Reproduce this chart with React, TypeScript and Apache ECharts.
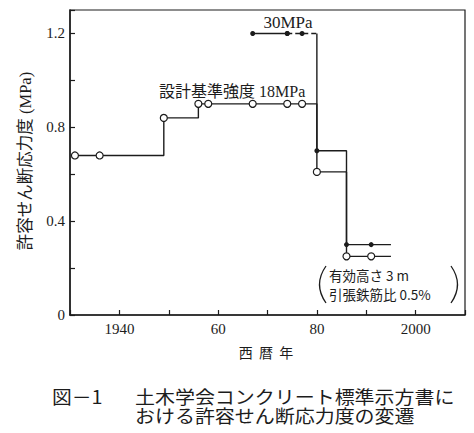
import React, { useEffect, useRef } from "react";
import * as echarts from "echarts";

// ---- data ----
const years18 = [1931, 1936, 1949, 1956, 1958, 1967, 1974, 1977, 1980, 1986, 1991];
const values18 = [0.68, 0.68, 0.84, 0.9, 0.9, 0.9, 0.9, 0.9, 0.61, 0.25, 0.25];
const years30 = [1967, 1974, 1977, 1980, 1986, 1991];
const values30 = [1.2, 1.2, 1.2, 0.7, 0.3, 0.3];
const tailYear = 1995;
const dashedFrom = 1974; // 30MPa line dashed from this year until the 1980 drop
const dropYear = 1980;

const xTickLabels: Record<number, string> = { 1940: "1940", 1960: "60", 1980: "80", 2000: "2000" };
const yTickLabels: Record<string, string> = { "0": "0", "0.4": "0.4", "0.8": "0.8", "1.2": "1.2" };

const INK = "#1c1c1c";
const SERIF = "'Liberation Serif', 'Noto Sans CJK JP', serif";
const GOTHIC = "'Noto Sans CJK JP', sans-serif";

export default function App() {
  const ref = useRef<HTMLDivElement>(null);
  useEffect(() => {
    if (!ref.current) return;
    const chart = echarts.init(ref.current, undefined, { renderer: "svg" });

    const openSym = {
      symbol: "circle",
      symbolSize: 7,
      itemStyle: { color: "#fff", borderColor: INK, borderWidth: 1.2 },
    };
    const dotSym = {
      symbol: "circle",
      symbolSize: 5,
      itemStyle: { color: INK, borderColor: INK, borderWidth: 0 },
    };
    const lineSolid = { color: INK, width: 1.4, type: "solid" as const };

    const data18: any[] = years18.map((y, i) => [y, values18[i]]);
    data18.push({ value: [tailYear, values18[values18.length - 1]], symbol: "none" });

    const idxDash = years30.indexOf(dashedFrom);
    const idxDrop = years30.indexOf(dropYear);
    const top30 = values30[0];
    const data30a: any[] = years30.slice(0, idxDash + 1).map((y, i) => [y, values30[i]]);
    const data30b: any[] = years30
      .slice(idxDash, idxDrop)
      .map((y, i) => [y, values30[idxDash + i]]);
    data30b.push({ value: [dropYear, top30], symbol: "none" });
    const data30c: any[] = [{ value: [dropYear, top30], symbol: "none" }];
    years30.slice(idxDrop).forEach((y, i) => data30c.push([y, values30[idxDrop + i]]));
    data30c.push({ value: [tailYear, values30[values30.length - 1]], symbol: "none" });

    const parenStyle = { stroke: INK, lineWidth: 1.3, fill: "none" };

    const option: any = {
      animation: false,
      grid: {
        left: 70,
        top: 10,
        width: 395,
        height: 305,
        show: true,
        borderColor: INK,
        borderWidth: 1.2,
        backgroundColor: "transparent",
      },
      xAxis: {
        type: "value",
        min: 1930,
        max: 2010,
        interval: 10,
        axisLine: { show: true, lineStyle: { color: INK, width: 1.5 } },
        axisTick: { show: true, inside: true, length: 5, lineStyle: { color: INK, width: 1.2 } },
        splitLine: { show: false },
        axisLabel: {
          color: INK,
          fontFamily: SERIF,
          fontSize: 15,
          margin: 6,
          formatter: (v: number) => xTickLabels[Math.round(v)] ?? "",
        },
      },
      yAxis: {
        type: "value",
        min: 0,
        max: 1.3,
        interval: 0.2,
        axisLine: { show: true, lineStyle: { color: INK, width: 1.5 } },
        axisTick: { show: true, inside: true, length: 5, lineStyle: { color: INK, width: 1.2 } },
        splitLine: { show: false },
        axisLabel: {
          color: INK,
          fontFamily: SERIF,
          fontSize: 15,
          margin: 5,
          formatter: (v: number) => yTickLabels[String(Math.round(v * 10) / 10)] ?? "",
        },
      },
      series: [
        {
          name: "18MPa",
          type: "line",
          step: "end",
          data: data18,
          lineStyle: lineSolid,
          ...openSym,
          z: 3,
        },
        {
          name: "30MPa-a",
          type: "line",
          data: data30a,
          lineStyle: lineSolid,
          ...dotSym,
          z: 3,
        },
        {
          name: "30MPa-b",
          type: "line",
          data: data30b,
          lineStyle: { color: INK, width: 1.4, type: [5, 3] },
          ...dotSym,
          z: 3,
        },
        {
          name: "30MPa-c",
          type: "line",
          step: "end",
          data: data30c,
          lineStyle: lineSolid,
          ...dotSym,
          z: 3,
        },
      ],
      graphic: [
        {
          type: "text",
          x: 25,
          y: 161,
          rotation: Math.PI / 2,
          style: {
            text: "許容せん断応力度 (MPa)",
            fill: INK,
            font: `16.5px ${SERIF}`,
            align: "center",
            verticalAlign: "middle",
          },
        },
        {
          type: "text",
          x: 288,
          y: 22,
          style: { text: "30MPa", fill: INK, font: `17px ${SERIF}`, align: "center", verticalAlign: "middle" },
        },
        {
          type: "text",
          x: 159,
          y: 91,
          style: { text: "設計基準強度 18MPa", fill: INK, font: `16px ${SERIF}`, align: "left", verticalAlign: "middle" },
        },
        {
          type: "bezierCurve",
          shape: { x1: 326, y1: 266, x2: 326, y2: 303, cpx1: 313, cpy1: 284.5 },
          style: parenStyle,
        },
        {
          type: "bezierCurve",
          shape: { x1: 451, y1: 266, x2: 451, y2: 303, cpx1: 464, cpy1: 284.5 },
          style: parenStyle,
        },
        {
          type: "text",
          x: 329,
          y: 275,
          style: { text: "有効高さ 3 m", fill: INK, font: `13.5px ${GOTHIC}`, align: "left", verticalAlign: "middle" },
        },
        {
          type: "text",
          x: 329,
          y: 293.5,
          style: { text: "引張鉄筋比 0.5%", fill: INK, font: `13.5px ${GOTHIC}`, align: "left", verticalAlign: "middle" },
        },
        {
          type: "text",
          x: 266,
          y: 352,
          style: { text: "西  暦  年", fill: INK, font: `14px ${GOTHIC}`, align: "center", verticalAlign: "middle" },
        },
        {
          type: "text",
          x: 52,
          y: 396,
          scaleX: 1.1,
          style: { text: "図－1", fill: INK, font: `18px ${GOTHIC}`, align: "left", verticalAlign: "middle" },
        },
        {
          type: "text",
          x: 135,
          y: 387,
          scaleX: 1.11,
          style: {
            text: "土木学会コンクリート標準示方書に\nおける許容せん断応力度の変遷",
            fill: INK,
            font: `18px ${GOTHIC}`,
            lineHeight: 18.5,
            align: "left",
            verticalAlign: "top",
          },
        },
      ],
    };
    chart.setOption(option);
    return () => chart.dispose();
  }, []);
  return (
    <div
      ref={ref}
      style={{ position: "fixed", left: 0, top: 0, width: 474, height: 433, background: "#fff" }}
    />
  );
}
